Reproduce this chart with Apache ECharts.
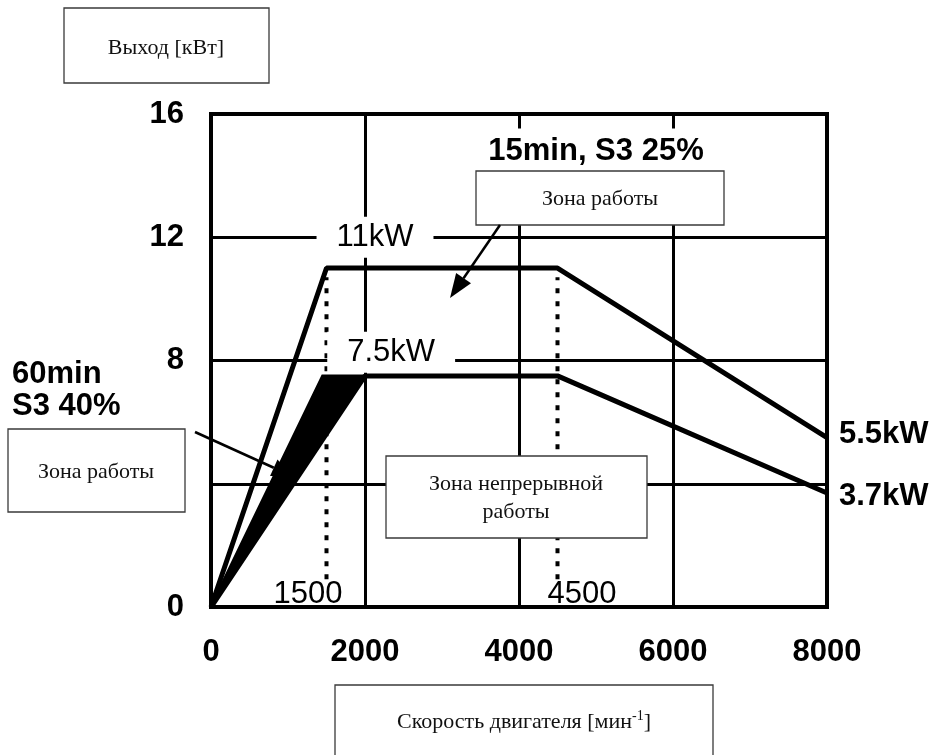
<!DOCTYPE html>
<html>
<head>
<meta charset="utf-8">
<script src="https://cdn.jsdelivr.net/npm/echarts@6/dist/echarts.min.js"></script>
<style>
  html, body { margin: 0; padding: 0; background: #fff; }
  #chart { width: 946px; height: 755px; }
</style>
</head>
<body>
<div id="chart"></div>
<script>
// ---- data ----
const xTicks = [0, 2000, 4000, 6000, 8000];
const yTicks = [0, 4, 8, 12, 16];

// 15min, S3 25% curve
const s3_25_speed = [0, 1500, 4500, 8000];
const s3_25_power = [0, 11, 11, 5.5];

// 60min, S3 40% curve
const s3_40_speed = [0, 2000, 4500, 8000];
const s3_40_power = [0, 7.5, 7.5, 3.7];

// shaded wedge of the 60min S3 40% zone
const wedge_speed = [0, 1450, 2000];
const wedge_power = [0, 7.5, 7.5];

// base speed markers (dotted)
const base_speeds = [1500, 4500];
const base_power_range = [0.9, 10.7];

// in-plot annotations
const ann_text  = ['11kW', '7.5kW', '15min, S3 25%', '1500', '4500'];
const ann_speed = [2130, 2340, 5000, 1260, 4818];
const ann_power = [12, 8.27, 14.77, 0.4, 0.42];
const ann_bg    = [true, true, true, false, false];
const ann_bold  = [false, false, true, false, false];

// end labels
const end_text  = ['5.5kW', '3.7kW'];
const end_speed = [8000, 8000];
const end_power = [5.6, 3.6];

// ---- chart ----
const chart = echarts.init(document.getElementById('chart'));
const SANS = '"Liberation Sans", Arial, sans-serif';
const SERIF = '"Liberation Serif", "Times New Roman", serif';

const zip = (a, b) => a.map((v, i) => [v, b[i]]);

function box(x, y, w, h) {
  return { type: 'rect', z: 100, shape: { x: x, y: y, width: w, height: h },
           style: { fill: '#fff', stroke: '#3a3a3a', lineWidth: 1.3 } };
}
function label(x, y, text, size) {
  return { type: 'text', z: 101, x: x, y: y,
           style: { text: text, fill: '#111', font: (size || 22) + 'px ' + SERIF,
                    align: 'center', verticalAlign: 'middle',
                    textAlign: 'center', textVerticalAlign: 'middle', lineHeight: 28 } };
}
function arrow(x1, y1, x2, y2, len, hw) {
  const dx = x2 - x1, dy = y2 - y1, d = Math.hypot(dx, dy);
  const ux = dx / d, uy = dy / d;
  const bx = x2 - ux * len, by = y2 - uy * len;
  return [
    { type: 'line', z: 102, shape: { x1: x1, y1: y1, x2: bx, y2: by },
      style: { stroke: '#000', lineWidth: 2.5 } },
    { type: 'polygon', z: 102,
      shape: { points: [[x2, y2], [bx - uy * hw, by + ux * hw], [bx + uy * hw, by - ux * hw]] },
      style: { fill: '#000' } }
  ];
}

const annData = ann_text.map((t, i) => ({
  value: [ann_speed[i], ann_power[i]],
  label: {
    formatter: t,
    fontWeight: ann_bold[i] ? 'bold' : 'normal',
    backgroundColor: ann_bg[i] ? '#fff' : 'transparent',
    padding: ann_bg[i] ? (ann_bold[i] ? [10, 6, 6, 6] : [5, 20, 5, 20]) : 0
  }
}));

const option = {
  backgroundColor: '#fff',
  animation: false,
  grid: { left: 211, right: 119, top: 114, bottom: 148, show: true,
          borderColor: '#000', borderWidth: 4, backgroundColor: 'transparent' },
  xAxis: {
    type: 'value', min: xTicks[0], max: xTicks[xTicks.length - 1], interval: 2000,
    axisLine: { show: false }, axisTick: { show: false },
    splitLine: { show: true, lineStyle: { color: '#000', width: 3 } },
    axisLabel: { color: '#000', fontFamily: SANS, fontSize: 31, fontWeight: 'bold', margin: 30,
                 formatter: v => String(v) }
  },
  yAxis: {
    type: 'value', min: yTicks[0], max: yTicks[yTicks.length - 1], interval: 4,
    axisLine: { show: false }, axisTick: { show: false },
    splitLine: { show: true, lineStyle: { color: '#000', width: 3 } },
    axisLabel: { color: '#000', fontFamily: SANS, fontSize: 31, fontWeight: 'bold', margin: 27,
                 formatter: v => String(v) }
  },
  series: [
    {
      type: 'custom', z: 3, silent: true,
      data: [[wedge_speed[0], wedge_power[0]]],
      renderItem: function (params, api) {
        const pts = zip(wedge_speed, wedge_power).map(p => api.coord(p));
        return { type: 'polygon', shape: { points: pts },
                 style: { fill: '#000', stroke: '#000', lineWidth: 3 } };
      }
    },
    {
      type: 'line', z: 4, data: zip(s3_25_speed, s3_25_power), showSymbol: false,
      lineStyle: { color: '#000', width: 5 }
    },
    {
      type: 'line', z: 4, data: zip(s3_40_speed, s3_40_power), showSymbol: false,
      lineStyle: { color: '#000', width: 5 }
    },
    ...base_speeds.map(s => ({
      type: 'line', z: 2, showSymbol: false,
      data: [[s, base_power_range[0]], [s, base_power_range[1]]],
      lineStyle: { color: '#000', width: 4, type: [5, 8], cap: 'butt' }
    })),
    {
      type: 'scatter', z: 6, symbolSize: 0, silent: true, data: annData,
      itemStyle: { opacity: 1 },
      label: { show: true, position: 'inside', color: '#000', fontFamily: SANS, fontSize: 31, opacity: 1 }
    },
    {
      type: 'scatter', z: 6, symbolSize: 0, silent: true, clip: false,
      itemStyle: { opacity: 1 },
      data: end_speed.map((s, i) => ({ value: [s, end_power[i]], label: { formatter: end_text[i] } })),
      label: { show: true, position: 'right', distance: 12, color: '#000', opacity: 1,
               fontFamily: SANS, fontSize: 31, fontWeight: 'bold' }
    }
  ],
  graphic: [
    { type: 'text', z: 101, left: 12, top: 358,
      style: { text: '60min\nS3 40%', fill: '#000', font: 'bold 31px ' + SANS, lineHeight: 32 } },
    box(64, 8, 205, 75), label(166, 48, 'Выход [кВт]'),
    box(476, 171, 248, 54), label(600, 199, 'Зона работы'),
    box(8, 429, 177, 83), label(96, 472, 'Зона работы'),
    box(386, 456, 261, 82), label(516, 498, 'Зона непрерывной\nработы'),
    box(335, 685, 378, 90),
    { type: 'text', z: 101, x: 524, y: 722,
      style: { text: '{a|Скорость двигателя [мин}{s|-1}{a|]}', align: 'center', verticalAlign: 'middle',
               textAlign: 'center', textVerticalAlign: 'middle',
               rich: { a: { font: '22px ' + SERIF, fill: '#111', color: '#111' },
                       s: { font: '14px ' + SERIF, fill: '#111', color: '#111', padding: [0, 0, 12, 0] } } } },
    ...arrow(500, 225, 450, 298, 24, 9),
    ...arrow(195, 432, 292, 476, 20, 9)
  ]
};
chart.setOption(option);
</script>
</body>
</html>
